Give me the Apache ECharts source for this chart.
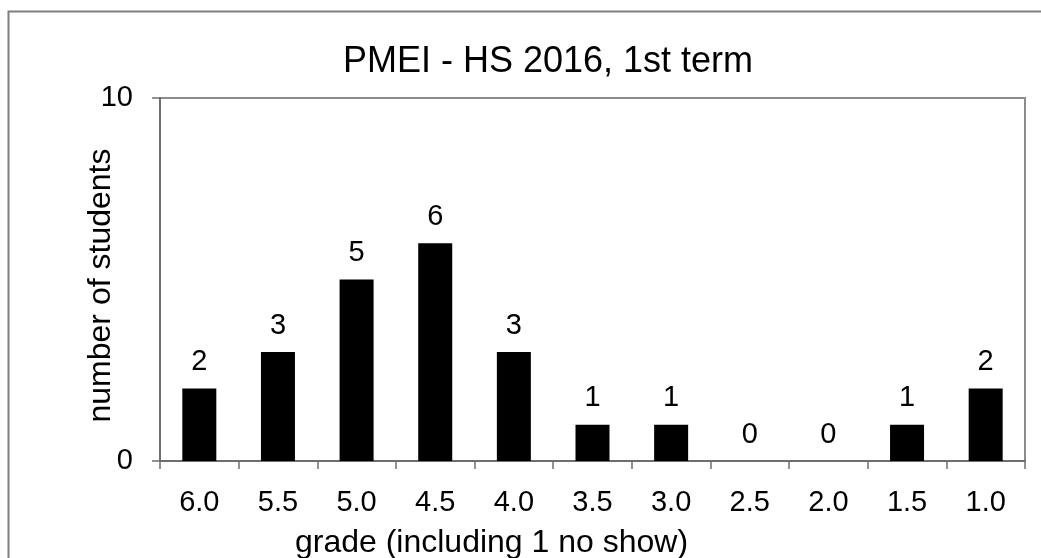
<!DOCTYPE html>
<html>
<head>
<meta charset="utf-8">
<script src="https://cdn.jsdelivr.net/npm/echarts@6/dist/echarts.min.js"></script>
<style>
    html, body { margin: 0; padding: 0; background: #fff; }
    #chart { width: 1041px; height: 558px; }
</style>
</head>
<body>
<div id="chart"></div>
<script>
    const grades = ['6.0', '5.5', '5.0', '4.5', '4.0', '3.5', '3.0', '2.5', '2.0', '1.5', '1.0'];
    const students = [2, 3, 5, 6, 3, 1, 1, 0, 0, 1, 2];
    const yTicks = [0, 10];

    const font = '"Liberation Sans", Arial, sans-serif';
    const myChart = echarts.init(document.getElementById('chart'));
    const option = {
        animation: false,
        backgroundColor: '#fff',
        title: {
            text: 'PMEI - HS 2016, 1st term',
            left: 543,
            top: 39,
            textAlign: 'center',
            textStyle: {fontFamily: font, fontSize: 36, fontWeight: 'normal', color: '#000'}
        },
        graphic: [{
            type: 'rect',
            shape: {x: 8.5, y: 11.5, width: 1100, height: 700},
            style: {fill: 'none', stroke: '#7f7f7f', lineWidth: 2},
            silent: true
        }],
        grid: {
            left: 160, right: 16, top: 98, bottom: 97,
            outerBoundsMode: 'none',
            containLabel: false,
            show: true, borderColor: '#8c8c8c', borderWidth: 2, backgroundColor: 'transparent'
        },
        xAxis: {
            type: 'category',
            data: grades,
            name: 'grade (including 1 no show)',
            nameLocation: 'middle',
            nameGap: 66,
            nameMoveOverlap: false,
            nameTextStyle: {fontFamily: font, fontSize: 32, color: '#000', padding: [0, 202, 0, 0]},
            axisLine: {lineStyle: {color: '#6e6e6e', width: 2}},
            axisTick: {show: true, inside: false, length: 8, alignWithLabel: false, lineStyle: {color: '#6e6e6e', width: 1.5}},
            axisLabel: {fontFamily: font, fontSize: 29, color: '#000', margin: 27}
        },
        yAxis: {
            type: 'value',
            min: yTicks[0],
            max: yTicks[1],
            interval: 10,
            name: 'number of students',
            nameLocation: 'middle',
            nameGap: 43,
            nameMoveOverlap: false,
            nameRotate: 90,
            nameTextStyle: {fontFamily: font, fontSize: 32, color: '#000', padding: [0, 12, 0, 0]},
            splitLine: {show: false},
            axisLine: {show: true, lineStyle: {color: '#6e6e6e', width: 2}},
            axisTick: {show: true, length: 8, lineStyle: {color: '#6e6e6e', width: 1.5}},
            axisLabel: {fontFamily: font, fontSize: 29, color: '#000', margin: 27}
        },
        series: [{
            type: 'bar',
            data: students,
            barWidth: 34,
            itemStyle: {color: '#000'},
            label: {
                show: true,
                position: 'top',
                distance: 12,
                fontFamily: font,
                fontSize: 29,
                color: '#000'
            }
        }]
    };
    myChart.setOption(option);
</script>
</body>
</html>
